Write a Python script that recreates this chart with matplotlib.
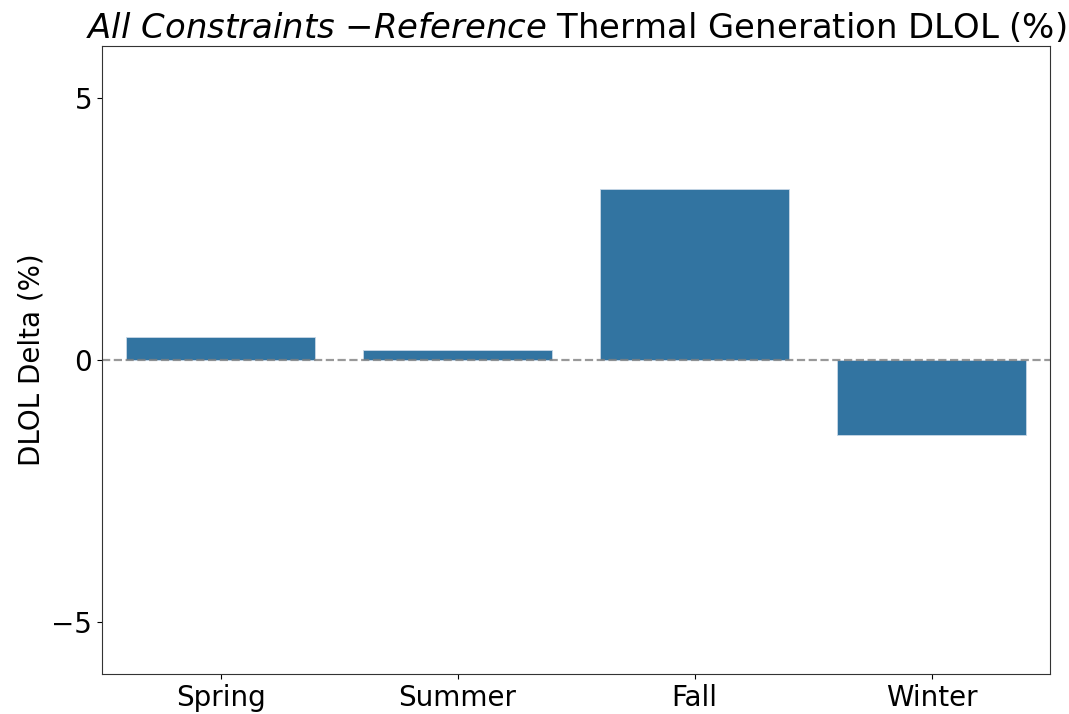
import numpy as np
import matplotlib
matplotlib.use('Agg')
import matplotlib.pyplot as plt

# 季節ごとのDLOL差分 (%)
seasons = ['Spring', 'Summer', 'Fall', 'Winter']
dlol_delta = [0.43, 0.20, 3.27, -1.44]

fig, ax = plt.subplots(figsize=(10.69, 7.14), dpi=100)
fig.subplots_adjust(left=102 / 1069, right=1050 / 1069, top=1 - 46 / 714, bottom=1 - 674 / 714)

x = np.arange(len(seasons))
ax.bar(x, dlol_delta, width=0.8, color='#3274a1', edgecolor='#c8d8e6', linewidth=0.6)
ax.axhline(0, color='gray', linestyle='--', linewidth=1.6, alpha=0.8)

ax.set_xticks(x)
ax.set_xticklabels(seasons)
ax.set_xlim(-0.5, len(seasons) - 0.5)
ax.set_ylim(-6, 6)
ax.set_yticks([-5, 0, 5])
ax.tick_params(labelsize=20)
for s in ax.spines.values():
    s.set_color('#333333')

ax.set_ylabel('DLOL Delta (%)', fontsize=20)
ax.set_title(r'$\it{All\ Constraints}$ $-\it{Reference}$ Thermal Generation DLOL (%)', fontsize=24.4)

plt.savefig('out.png', dpi=100)
